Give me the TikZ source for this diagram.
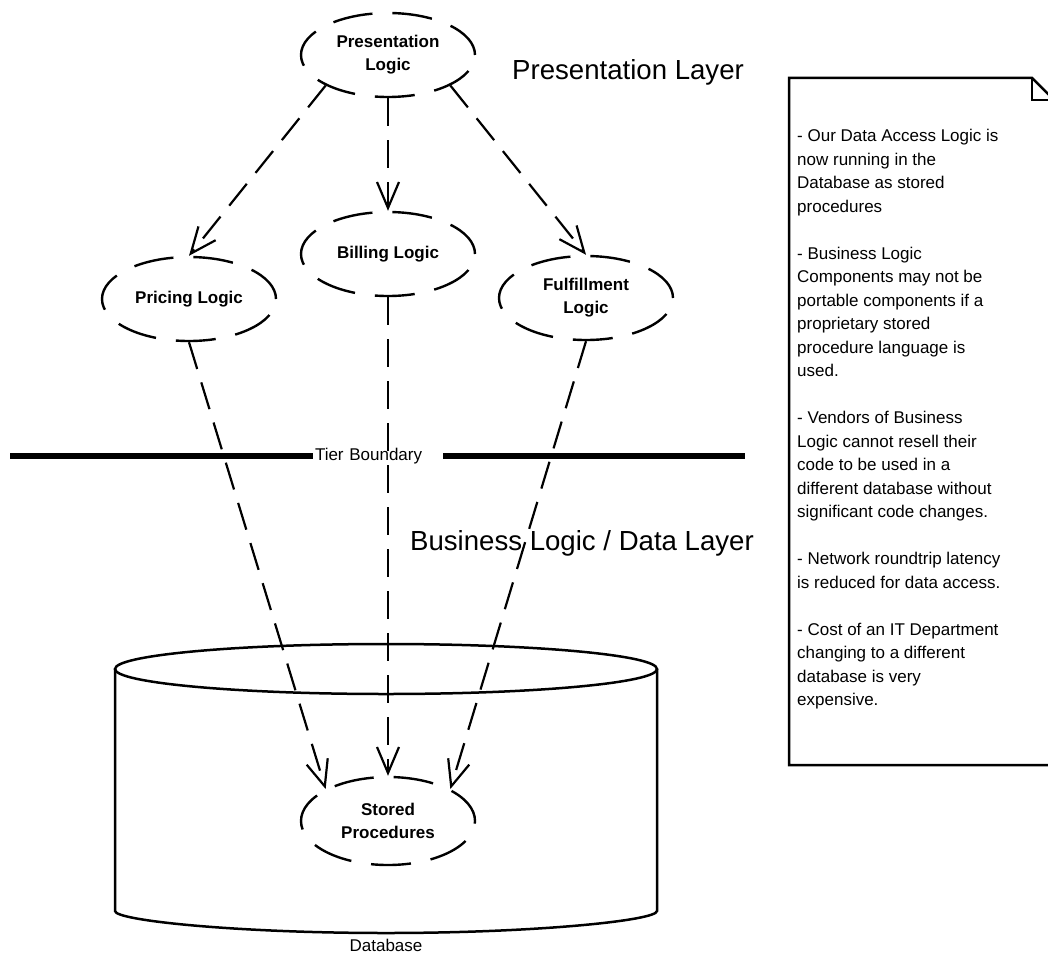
\documentclass[tikz,border=0pt]{standalone}
\usepackage{fontspec}
\setmainfont{Liberation Sans}
\usepackage{tikz}
\usetikzlibrary{shapes.geometric}
\usetikzlibrary{arrows.meta}
\tikzset{
  logic-node/.style={ellipse,draw,line width=2.4pt,dash pattern=on 40pt off 20pt,minimum width=174pt,minimum height=84pt,inner sep=0pt,align=center,font=\fontsize{17}{23}\selectfont\bfseries},
  logic-link/.style={line width=2.2pt,dash pattern=on 28pt off 14pt,-{Straight Barb[length=26pt,width=22pt]}},
  layer-label/.style={font=\fontsize{27.6}{33}\selectfont},
  small-label/.style={font=\fontsize{17}{20}\selectfont},
  tier-label/.style={small-label,fill=white,minimum width=130pt,text width=126pt,align=left,inner sep=2pt},
  note-text/.style={anchor=north west,align=left,inner sep=0pt,font=\fontsize{17}{23.5}\selectfont},
  note-line/.style={line width=2.5pt,line join=miter}
}

\begin{document}
\begin{tikzpicture}[x=1pt,y=-1pt]
   \clip (0,0) rectangle (1048,955);
   \draw[line width=2.5pt] (386,669) ellipse [x radius=271, y radius=25];
   \draw[line width=2.5pt,rounded corners=6pt] (115,669) -- (115,905) arc [start angle=180, end angle=0, x radius=271, y radius=28] -- (657,669);
   \node (db-label) [small-label] at (386,945) {Database};

   \node (tier) [tier-label] at (378,456) {Tier Boundary};
   \draw[line width=5.5pt] (10,456) -- (tier.west);
   \draw[line width=5.5pt] (tier.east) -- (745,456);

   \node (pres-layer) [layer-label] at (628,72) {Presentation Layer};
   \node (data-layer) [layer-label] at (582,543) {Business Logic / Data Layer};

   \node (pres) [logic-node] at (388,55) {Presentation\\Logic};
   \node (bill) [logic-node] at (388,254) {Billing Logic};
   \node (price) [logic-node] at (189,299) {Pricing Logic};
   \node (fulfil) [logic-node] at (586,298) {Fulfillment\\Logic};
   \node (stored) [logic-node,minimum height=88pt] at (388,821) {Stored\\Procedures};

   \draw[logic-link] (pres.south west) -- (price.north);
   \draw[logic-link] (pres.south) -- (bill.north);
   \draw[logic-link] (pres.south east) -- (fulfil.north);
   \draw[logic-link] (price.south) -- (stored.north west);
   \draw[logic-link] (bill.south) -- (stored.north);
   \draw[logic-link] (fulfil.south) -- (stored.north east);

   \draw[note-line] (789,78) -- (1032,78) -- (1054,100) -- (1054,765) -- (789,765) -- cycle;
   \draw[note-line] (1032,78) -- (1032,100) -- (1054,100);
   \node (note-text) [note-text] at (797,129) {- Our Data Access Logic is\\now running in the\\Database as stored\\procedures\\[23.5pt]
      - Business Logic\\Components may not be\\portable components if a\\proprietary stored\\procedure language is\\used.\\[23.5pt]
      - Vendors of Business\\Logic cannot resell their\\code to be used in a\\different database without\\significant code changes.\\[23.5pt]
      - Network roundtrip latency\\is reduced for data access.\\[23.5pt]
      - Cost of an IT Department\\changing to a different\\database is very\\expensive.};
\end{tikzpicture}
\end{document}
